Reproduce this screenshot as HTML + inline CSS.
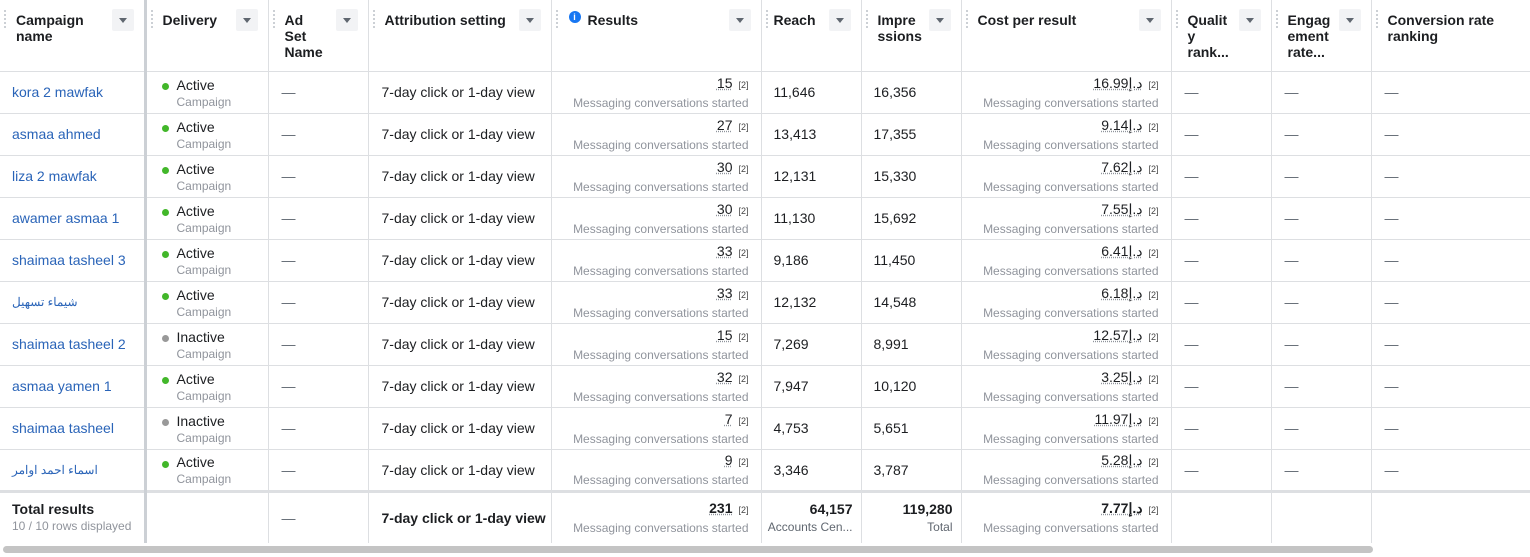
<!DOCTYPE html>
<html><head><meta charset="utf-8"><style>
*{box-sizing:border-box;margin:0;padding:0}
body{width:1530px;height:557px;background:#fff;font-family:"Liberation Sans","Noto Sans CJK SC",sans-serif;color:#1c1e21;overflow:hidden;position:relative}
table{border-collapse:collapse;table-layout:fixed;position:absolute;left:0;top:0}
td,th{border-right:1px solid #dddfe2;border-bottom:1px solid #dddfe2;font-size:14px;vertical-align:middle;position:relative;overflow:hidden;white-space:nowrap}
th{height:71px;vertical-align:top;text-align:left;font-weight:bold;padding:12px 0 0 16px;line-height:16px;white-space:normal;color:#1c1e21}
th .dd{position:absolute;right:10px;top:9px;width:22px;height:22px;background:#f2f3f5;border-radius:2px}
th .dd:after{content:"";position:absolute;left:7px;top:9px;border-left:4px solid transparent;border-right:4px solid transparent;border-top:5px solid #606770}
th .hd{position:absolute;left:4px;top:10px;width:2px;height:18px;border-left:2px dotted #ccd0d5}
tr.r td{height:42px}
.c1{padding-left:12px;color:#2a64b8}
.c2{border-left:3px solid #ccd0d5;padding-left:30px;line-height:16px;padding-top:2px}
.dot{position:absolute;left:15px;top:11px;width:7px;height:7px;border-radius:50%;background:#42b72a}
.in .dot{background:#999}
.sub{font-size:12px;color:#90949c}
.dash{padding-left:13px;color:#606770}
.attr{padding-left:13px}
.num{padding-left:12px}
.rt{text-align:right;padding-right:12px;line-height:17px;padding-top:2px}
.rt .v{text-decoration:underline dotted #90949c;unicode-bidi:isolate;direction:ltr}
.rt .b{font-size:9px;color:#444;margin-left:6px}
tr.tot td{height:52px;border-top:3px solid #dddfe2;border-bottom:none}
.tot b{font-weight:bold}
.sb{position:absolute;left:3px;top:546px;width:1370px;height:7px;border-radius:4px;background:#c4c4c4}
</style></head><body>
<table>
<colgroup><col style="width:145px"><col style="width:123px"><col style="width:100px"><col style="width:183px"><col style="width:210px"><col style="width:100px"><col style="width:100px"><col style="width:210px"><col style="width:100px"><col style="width:100px"><col style="width:159px"></colgroup>
<tr><th><span class="hd"></span>Campaign<br>name<span class="dd"></span></th>
<th style="border-left:3px solid #ccd0d5"><span class="hd"></span>Delivery<span class="dd"></span></th>
<th><span class="hd"></span>Ad<br>Set<br>Name<span class="dd"></span></th>
<th><span class="hd"></span>Attribution setting<span class="dd"></span></th>
<th style="padding-left:36px"><span class="hd"></span><span style="position:absolute;left:17px;top:11px;width:12px;height:12px;border-radius:50%;background:#1877f2;color:#fff;font-size:9px;text-align:center;line-height:12px">i</span>Results<span class="dd"></span></th>
<th style="padding-left:12px"><span class="hd"></span>Reach<span class="dd"></span></th>
<th><span class="hd"></span>Impre<br>ssions<span class="dd"></span></th>
<th><span class="hd"></span>Cost per result<span class="dd"></span></th>
<th><span class="hd"></span>Qualit<br>y<br>rank...<span class="dd"></span></th>
<th><span class="hd"></span>Engag<br>ement<br>rate...<span class="dd"></span></th>
<th style="border-right:none"><span class="hd"></span>Conversion rate<br>ranking</th></tr>

<tr class="r"><td class="c1">kora 2 mawfak</td><td class="c2"><span class="dot"></span>Active<br><span class="sub">Campaign</span></td><td class="dash">—</td><td class="attr">7-day click or 1-day view</td><td class="rt"><span class="v">15</span><span class="b">[2]</span><br><span class="sub">Messaging conversations started</span></td><td class="num">11,646</td><td class="num">16,356</td><td class="rt"><span class="v">16.99د.إ</span><span class="b">[2]</span><br><span class="sub">Messaging conversations started</span></td><td class="dash">—</td><td class="dash">—</td><td class="dash" style="border-right:none">—</td></tr>
<tr class="r"><td class="c1">asmaa ahmed</td><td class="c2"><span class="dot"></span>Active<br><span class="sub">Campaign</span></td><td class="dash">—</td><td class="attr">7-day click or 1-day view</td><td class="rt"><span class="v">27</span><span class="b">[2]</span><br><span class="sub">Messaging conversations started</span></td><td class="num">13,413</td><td class="num">17,355</td><td class="rt"><span class="v">9.14د.إ</span><span class="b">[2]</span><br><span class="sub">Messaging conversations started</span></td><td class="dash">—</td><td class="dash">—</td><td class="dash" style="border-right:none">—</td></tr>
<tr class="r"><td class="c1">liza 2 mawfak</td><td class="c2"><span class="dot"></span>Active<br><span class="sub">Campaign</span></td><td class="dash">—</td><td class="attr">7-day click or 1-day view</td><td class="rt"><span class="v">30</span><span class="b">[2]</span><br><span class="sub">Messaging conversations started</span></td><td class="num">12,131</td><td class="num">15,330</td><td class="rt"><span class="v">7.62د.إ</span><span class="b">[2]</span><br><span class="sub">Messaging conversations started</span></td><td class="dash">—</td><td class="dash">—</td><td class="dash" style="border-right:none">—</td></tr>
<tr class="r"><td class="c1">awamer asmaa 1</td><td class="c2"><span class="dot"></span>Active<br><span class="sub">Campaign</span></td><td class="dash">—</td><td class="attr">7-day click or 1-day view</td><td class="rt"><span class="v">30</span><span class="b">[2]</span><br><span class="sub">Messaging conversations started</span></td><td class="num">11,130</td><td class="num">15,692</td><td class="rt"><span class="v">7.55د.إ</span><span class="b">[2]</span><br><span class="sub">Messaging conversations started</span></td><td class="dash">—</td><td class="dash">—</td><td class="dash" style="border-right:none">—</td></tr>
<tr class="r"><td class="c1">shaimaa tasheel 3</td><td class="c2"><span class="dot"></span>Active<br><span class="sub">Campaign</span></td><td class="dash">—</td><td class="attr">7-day click or 1-day view</td><td class="rt"><span class="v">33</span><span class="b">[2]</span><br><span class="sub">Messaging conversations started</span></td><td class="num">9,186</td><td class="num">11,450</td><td class="rt"><span class="v">6.41د.إ</span><span class="b">[2]</span><br><span class="sub">Messaging conversations started</span></td><td class="dash">—</td><td class="dash">—</td><td class="dash" style="border-right:none">—</td></tr>
<tr class="r"><td class="c1" style="font-size:12px">شيماء تسهيل</td><td class="c2"><span class="dot"></span>Active<br><span class="sub">Campaign</span></td><td class="dash">—</td><td class="attr">7-day click or 1-day view</td><td class="rt"><span class="v">33</span><span class="b">[2]</span><br><span class="sub">Messaging conversations started</span></td><td class="num">12,132</td><td class="num">14,548</td><td class="rt"><span class="v">6.18د.إ</span><span class="b">[2]</span><br><span class="sub">Messaging conversations started</span></td><td class="dash">—</td><td class="dash">—</td><td class="dash" style="border-right:none">—</td></tr>
<tr class="r in"><td class="c1">shaimaa tasheel 2</td><td class="c2"><span class="dot"></span>Inactive<br><span class="sub">Campaign</span></td><td class="dash">—</td><td class="attr">7-day click or 1-day view</td><td class="rt"><span class="v">15</span><span class="b">[2]</span><br><span class="sub">Messaging conversations started</span></td><td class="num">7,269</td><td class="num">8,991</td><td class="rt"><span class="v">12.57د.إ</span><span class="b">[2]</span><br><span class="sub">Messaging conversations started</span></td><td class="dash">—</td><td class="dash">—</td><td class="dash" style="border-right:none">—</td></tr>
<tr class="r"><td class="c1">asmaa yamen 1</td><td class="c2"><span class="dot"></span>Active<br><span class="sub">Campaign</span></td><td class="dash">—</td><td class="attr">7-day click or 1-day view</td><td class="rt"><span class="v">32</span><span class="b">[2]</span><br><span class="sub">Messaging conversations started</span></td><td class="num">7,947</td><td class="num">10,120</td><td class="rt"><span class="v">3.25د.إ</span><span class="b">[2]</span><br><span class="sub">Messaging conversations started</span></td><td class="dash">—</td><td class="dash">—</td><td class="dash" style="border-right:none">—</td></tr>
<tr class="r in"><td class="c1">shaimaa tasheel</td><td class="c2"><span class="dot"></span>Inactive<br><span class="sub">Campaign</span></td><td class="dash">—</td><td class="attr">7-day click or 1-day view</td><td class="rt"><span class="v">7</span><span class="b">[2]</span><br><span class="sub">Messaging conversations started</span></td><td class="num">4,753</td><td class="num">5,651</td><td class="rt"><span class="v">11.97د.إ</span><span class="b">[2]</span><br><span class="sub">Messaging conversations started</span></td><td class="dash">—</td><td class="dash">—</td><td class="dash" style="border-right:none">—</td></tr>
<tr class="r"><td class="c1" style="font-size:12px">اسماء احمد اوامر</td><td class="c2"><span class="dot"></span>Active<br><span class="sub">Campaign</span></td><td class="dash">—</td><td class="attr">7-day click or 1-day view</td><td class="rt"><span class="v">9</span><span class="b">[2]</span><br><span class="sub">Messaging conversations started</span></td><td class="num">3,346</td><td class="num">3,787</td><td class="rt"><span class="v">5.28د.إ</span><span class="b">[2]</span><br><span class="sub">Messaging conversations started</span></td><td class="dash">—</td><td class="dash">—</td><td class="dash" style="border-right:none">—</td></tr>
<tr class="tot"><td style="padding-left:12px;line-height:16px"><b>Total results</b><br><span class="sub">10 / 10 rows displayed</span></td><td style="border-left:3px solid #ccd0d5"></td><td class="dash">—</td><td class="attr"><b>7-day click or 1-day view</b></td><td class="rt"><b class="v">231</b><span class="b">[2]</span><br><span class="sub">Messaging conversations started</span></td><td class="rt" style="padding-right:8px"><b>64,157</b><br><span class="sub" style="color:#606770">Accounts Cen...</span></td><td class="rt" style="padding-right:8px"><b>119,280</b><br><span class="sub" style="color:#606770">Total</span></td><td class="rt"><b class="v">7.77د.إ</b><span class="b">[2]</span><br><span class="sub">Messaging conversations started</span></td><td></td><td></td><td style="border-right:none"></td></tr>
</table>
<div class="sb"></div>
</body></html>
